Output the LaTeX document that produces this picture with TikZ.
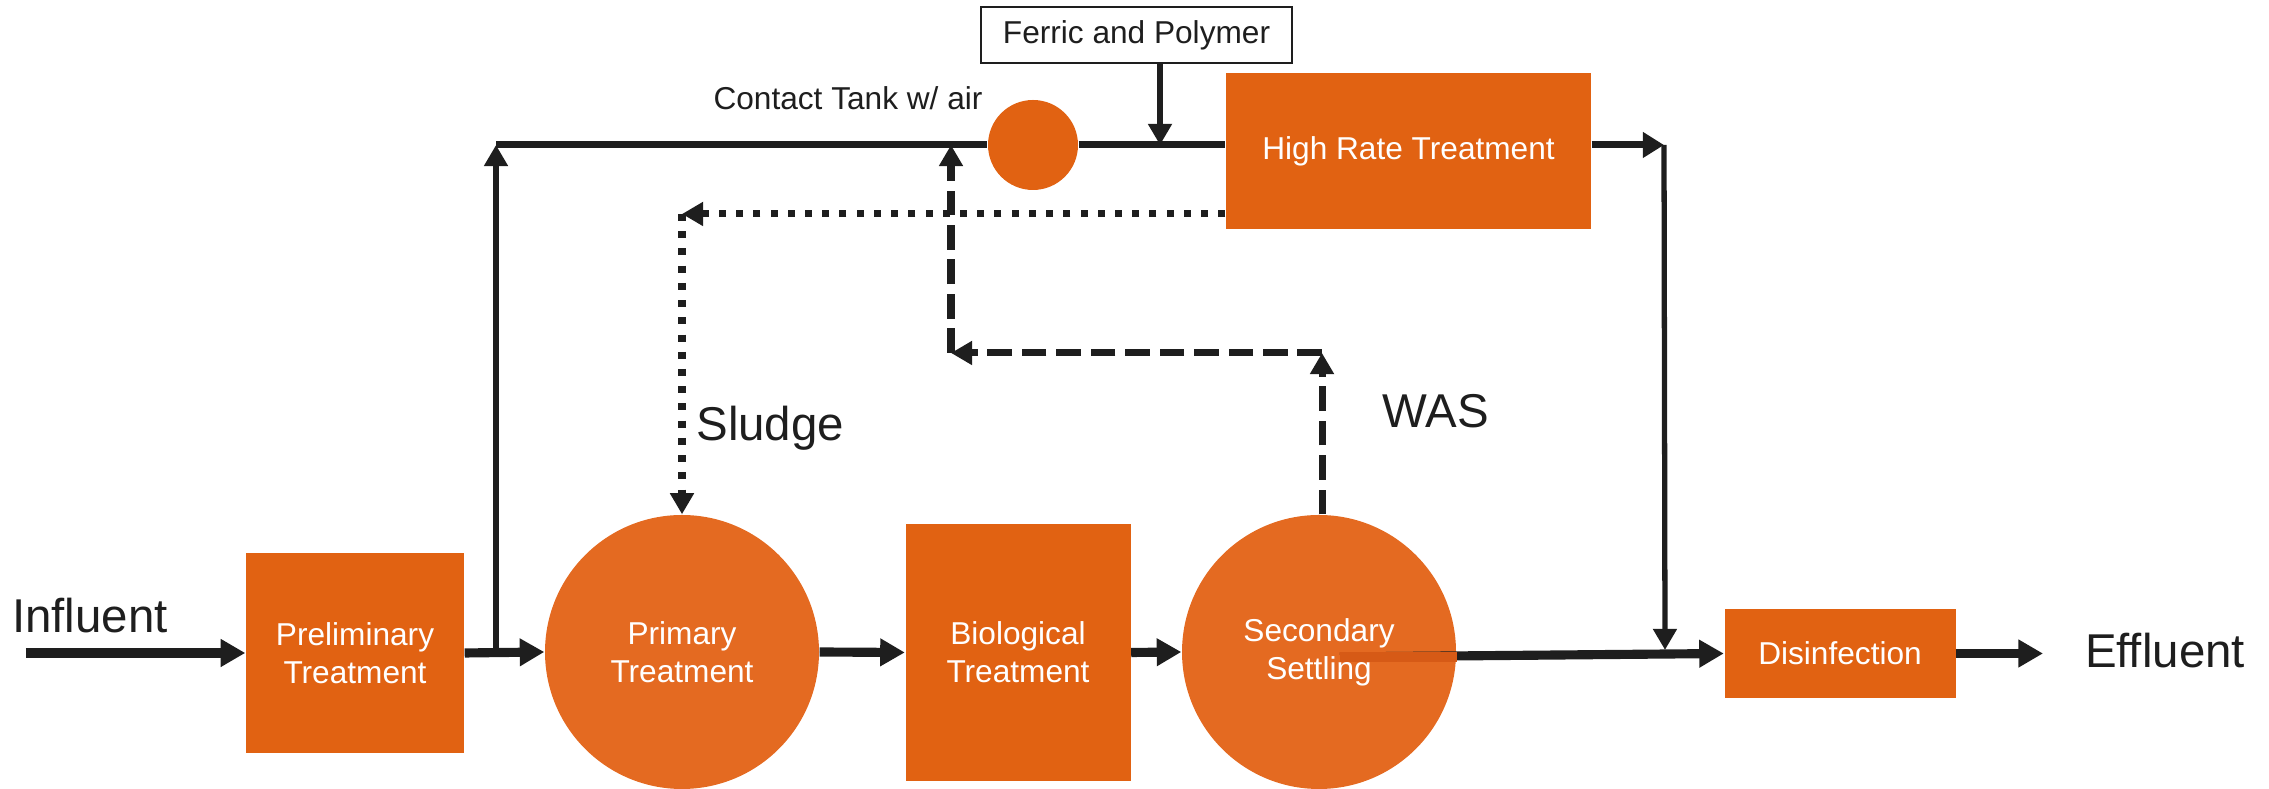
\documentclass[tikz,border=0pt]{standalone}
\usepackage{fontspec}
\setmainfont{Liberation Sans}
\usetikzlibrary{shapes, arrows.meta, positioning, calc}
\definecolor{unitorange}{RGB}{225, 98, 18}
\definecolor{tankorange}{RGB}{228, 106, 33}
\definecolor{seamorange}{RGB}{214, 90, 22}
\definecolor{pipeblack}{RGB}{30, 30, 30}

\begin{document}
\begin{tikzpicture}[
    unit/.style={fill=unitorange, text=white, align=center, inner sep=0pt,
                 font=\fontsize{9}{10.8}\selectfont},
    tank/.style={circle, fill=tankorange, text=white, align=center, inner sep=0pt,
                 minimum size=2.74cm, font=\fontsize{9}{10.8}\selectfont},
    bigtext/.style={text=pipeblack, font=\fontsize{13.5}{16}\selectfont},
    smalltext/.style={text=pipeblack, font=\fontsize{9}{10.8}\selectfont},
    flow/.style={-{Triangle[length=7pt, width=7.5pt]}, line width=2.6pt, pipeblack},
    pipe/.style={line width=2pt, pipeblack},
    riser/.style={-{Triangle[length=6pt, width=6.5pt]}, line width=1.5pt, pipeblack},
    was/.style={-{Triangle[length=6pt, width=6.5pt]}, line width=2pt, pipeblack,
                dash pattern=on 7pt off 2.8pt},
    sludge/.style={-{Triangle[length=6pt, width=6.5pt]}, line width=2pt, pipeblack,
                   dash pattern=on 2pt off 2.9pt}
  ]
  \useasboundingbox (0,0) rectangle (22.69,7.89);

  % Main train, left to right
  \node[bigtext] (infl) at (0.90,1.73) {Influent};
  \node[unit, minimum width=2.18cm, minimum height=2.00cm]
        (prelim) at (3.55,1.36) {Preliminary\\Treatment};
  \node[tank] (primary) at (6.82,1.37) {Primary\\Treatment};
  \node[unit, minimum width=2.25cm, minimum height=2.57cm]
        (bio) at (10.18,1.365) {Biological\\Treatment};
  \node[tank] (sec) at (13.19,1.37) {};
  \node[unit, minimum width=2.31cm, minimum height=0.89cm]
        (dis) at (18.40,1.355) {Disinfection};
  \node[bigtext] (effl) at (21.65,1.38) {Effluent};

  % Wet weather side stream
  \node[circle, fill=unitorange, minimum size=0.90cm, inner sep=0pt]
        (contact) at (10.33,6.44) {};
  \node[smalltext] (contactlbl) at (8.48,6.91) {Contact Tank w/ air};
  \node[smalltext, draw=pipeblack, line width=0.6pt, fill=white,
        minimum width=3.11cm, minimum height=0.56cm]
        (ferric) at (11.365,7.54) {Ferric and Polymer};
  \node[unit, minimum width=3.65cm, minimum height=1.56cm]
        (hrt) at (14.085,6.38) {High Rate Treatment};

  \coordinate (inlet) at (0.26,1.36);
  \coordinate (outlet) at (20.43,1.355);
  \coordinate (split) at (4.96,1.36);
  \coordinate (bypass) at (4.96,6.44);
  \coordinate (dose) at (11.60,6.44);
  \coordinate (outfall) at (16.64,6.44);
  \coordinate (blend) at (16.65,1.39);
  \coordinate (overflow) at (13.40,1.32);
  \coordinate (sludgeturn) at (6.82,5.75);
  \coordinate (wasturn) at (13.22,4.36);
  \coordinate (wasreturn) at (9.51,4.36);
  \coordinate (wasjoin) at (9.51,6.44);

  % Flow arrows
  \draw[flow] (inlet) -- (prelim.west);
  \draw[flow] (prelim.east) -- (primary.west);
  \draw[flow] (primary.east) -- (bio.west);
  \draw[flow] (bio.east) -- (sec.west);
  \draw[flow] (overflow) -- (dis.west);
  \draw[line width=2.6pt, seamorange] (overflow) -- (overflow -| sec.east);
  \draw[flow] (dis.east) -- (outlet);
  \node[tank, fill=none] (seclbl) at (sec.center) {Secondary\\Settling};

  % Bypass line
  \draw[riser] (split) -- (bypass);
  \draw[pipe] (bypass) -- (contact.west);
  \draw[pipe] (contact.east) -- (contact.east -| hrt.west);
  \draw[pipe, -{Triangle[length=6pt, width=7pt]}] (hrt.east |- contact) -- (outfall);
  \draw[riser] (outfall) -- (blend);
  \draw[riser] (ferric.south -| dose) -- (dose);

  % Sludge and WAS returns
  \draw[sludge] (hrt.west |- sludgeturn) -- (sludgeturn);
  \draw[sludge] (sludgeturn) -- (primary.north);
  \draw[was] (sec.north -| wasturn) -- (wasturn);
  \draw[was] (wasturn) -- (wasreturn);
  \draw[was] (wasreturn) -- (wasjoin);

  \node[bigtext, anchor=west] (sludgelbl) at (6.84,3.61) {Sludge};
  \node[bigtext, anchor=west] (waslbl) at (13.70,3.78) {WAS};
\end{tikzpicture}
\end{document}
